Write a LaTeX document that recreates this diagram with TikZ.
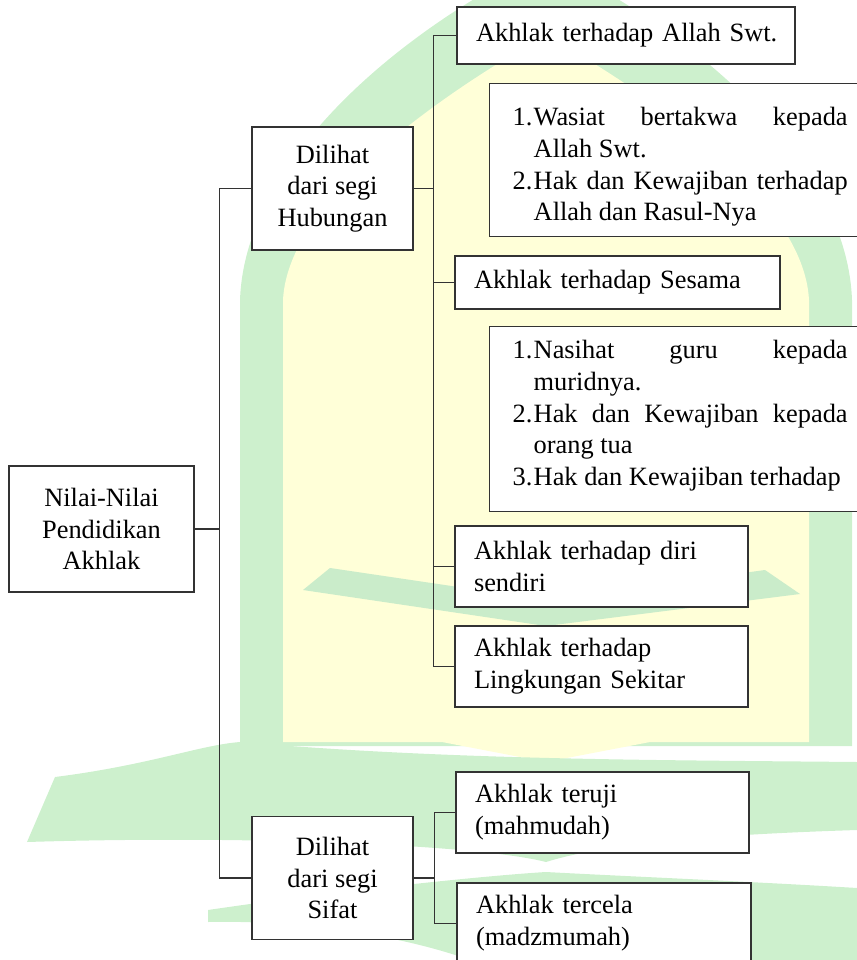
\documentclass[tikz,border=0pt]{standalone}
\usepackage{fontspec}
\setmainfont{Liberation Serif}
\definecolor{wmgreen}{HTML}{CDF0CD}
\definecolor{wmband}{HTML}{CAECCA}
\definecolor{wmyellow}{HTML}{FFFFD8}
\hyphenpenalty=10000
\newcommand\nomor[1]{\par\hangindent=10.5pt\hangafter=1\noindent\makebox[10.5pt][l]{#1}}

\begin{document}
\begin{tikzpicture}[x=0.5pt,y=-0.5pt,
  font=\fontsize{13.2}{15.9}\selectfont,
  link/.style={line width=0.7pt,draw=black!80},
  mid/.style={draw=black!80,line width=0.7pt,fill=white,align=center,minimum width=80.5pt,minimum height=61.5pt,inner sep=0pt},
  leaf/.style={draw=black!80,line width=0.7pt,fill=white,align=left,text width=#1,inner xsep=9.5pt,minimum height=40.5pt},
  lst/.style={draw=black!80,line width=0.7pt,fill=white,align=justify,text width=167.5pt,inner xsep=11.5pt,anchor=north west}]
\path[use as bounding box] (0,0) rectangle (857,960);
\clip (0,0) rectangle (857,960);
% watermark
\fill[wmgreen] (240,746) -- (240,300) .. controls (245,160) and (400,30) .. (546,-40) .. controls (692,30) and (847,160) .. (852,300) -- (852,746) -- cycle;
\fill[wmyellow] (283,742) -- (283,300) .. controls (288,200) and (440,95) .. (546,35) .. controls (652,95) and (804,200) .. (809,300) -- (809,742) -- (650,742) -- (546,762) -- (442,742) -- cycle;
\fill[wmband] (303,590) -- (330,568) -- (546,600) -- (765,570) -- (800,594) -- (546,626) -- cycle;
\fill[wmgreen] (55,777) .. controls (150,765) and (200,745) .. (240,742) .. controls (450,760) and (650,760) .. (857,762) -- (857,830) .. controls (700,835) and (600,845) .. (546,862) .. controls (480,845) and (250,835) .. (27,842) -- cycle;
\fill[wmgreen] (208,910) .. controls (330,892) and (480,876) .. (546,872) .. controls (620,876) and (760,882) .. (857,888) -- (857,960) -- (470,960) .. controls (400,935) and (300,920) .. (208,922) -- cycle;
% kotak
\node[mid,minimum width=92.5pt,minimum height=63pt] (nilai) at (101.5,529) {Nilai-Nilai\\Pendidikan\\Akhlak};
\node[mid] (hubungan) at (332.5,188.5) {Dilihat\\dari segi\\Hubungan};
\node[mid] (sifat) at (332.5,878) {Dilihat\\dari segi\\Sifat};
\node[leaf=150pt,minimum height=28.5pt] (allah) at (626,35.5) {\mbox{Akhlak terhadap Allah Swt.}};
\node[leaf=143.5pt,minimum height=26.5pt] (sesama) at (617.5,282.5) {Akhlak terhadap Sesama};
\node[leaf=127.5pt] (diri) at (601.5,566.5) {Akhlak terhadap diri\\sendiri};
\node[leaf=127.5pt] (lingkungan) at (601.5,666.5) {Akhlak terhadap\\Lingkungan Sekitar};
\node[leaf=127.5pt] (terpuji) at (602.5,812.5) {Akhlak teruji\\(mahmudah)};
\node[leaf=128pt] (tercela) at (604,923.5) {Akhlak tercela\\(madzmumah)};
\node[lst,inner ysep=5pt] (listallah) at (489,83) {\nomor{1.}Wasiat bertakwa kepada\linebreak Allah Swt.
  \nomor{2.}Hak dan Kewajiban terhadap\linebreak Allah dan Rasul-Nya\par};
\node[lst,inner ysep=0pt] (listsesama) at (489,326) {\nomor{1.}Nasihat guru kepada\linebreak muridnya.
  \nomor{2.}Hak dan Kewajiban kepada\linebreak orang tua
  \nomor{3.}Hak dan Kewajiban terhadap\rule[-13pt]{0pt}{0pt}\par};
% garis
\draw[link] (nilai.east) -- ++(25,0) coordinate (cabang1);
\draw[link] (cabang1) |- (hubungan.west);
\draw[link] (cabang1) |- (sifat.west);
\draw[link] (hubungan.east) -- ++(20,0) coordinate (cabang2);
\draw[link] (cabang2) |- (allah.west);
\draw[link] (cabang2) |- (lingkungan.west);
\draw[link] (cabang2 |- sesama.west) -- (sesama.west);
\draw[link] (cabang2 |- diri.west) -- (diri.west);
\draw[link] (sifat.east) -- ++(21,0) coordinate (cabang3);
\draw[link] (cabang3) |- (terpuji.west);
\draw[link] (cabang3) |- (tercela.west);
\end{tikzpicture}
\end{document}
